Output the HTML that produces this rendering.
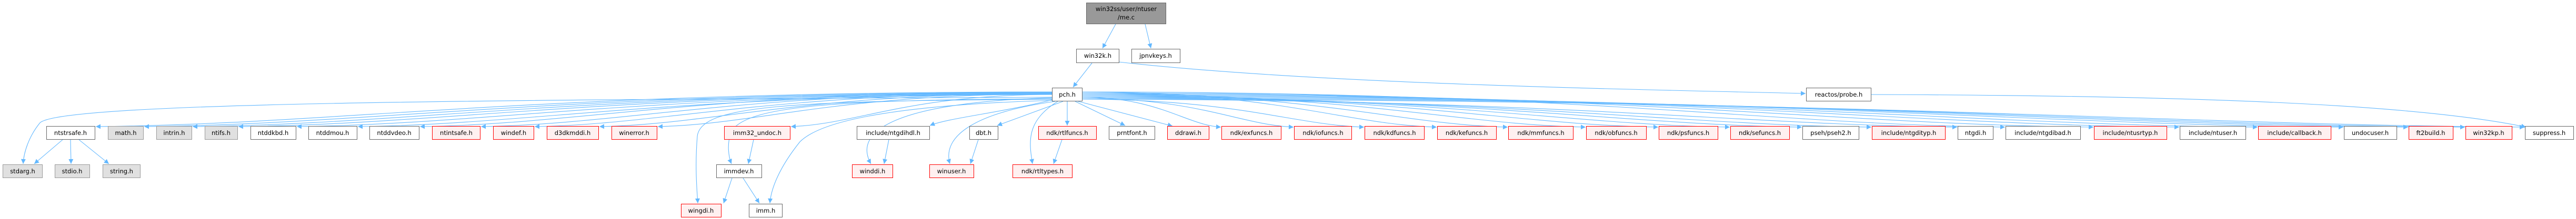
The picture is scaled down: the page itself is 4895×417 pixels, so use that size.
<!DOCTYPE html>
<html><head><meta charset="utf-8">
<style>
html,body{margin:0;padding:0;background:#fff;}
svg{display:block;}
text{font-family:"DejaVu Sans","Liberation Sans",sans-serif;font-size:11.5px;fill:#000;text-anchor:middle;}
.w{fill:#fff;stroke:#666;stroke-width:1;}
.g{fill:#e0e0e0;stroke:#999;stroke-width:1;}
.r{fill:#fff0f0;stroke:#f00;stroke-width:1;}
.e{fill:none;stroke:#63b8ff;stroke-width:1.1;}
</style></head>
<body>
<svg id="s" width="4895" height="417" viewBox="0 0 4895 417" xmlns="http://www.w3.org/2000/svg">
<defs><marker id="a" viewBox="0 0 10 10" refX="10" refY="5" markerWidth="11" markerHeight="9" markerUnits="userSpaceOnUse" orient="auto"><path d="M0,0 L10,5 L0,10 z" fill="#63b8ff"/></marker></defs>
<g id="edges"></g>
<g id="nodes">
<rect x="2064.5" y="5.5" width="151" height="40" fill="#999" stroke="#666"/>
<text x="2140" y="21">win32ss/user/ntuser</text><text x="2140" y="37">/me.c</text>

<rect class="w" x="2045.5" y="93.5" width="81" height="26"/><text x="2086" y="110">win32k.h</text>
<rect class="w" x="2150.5" y="93.5" width="92" height="26"/><text x="2196" y="110">jpnvkeys.h</text>

<rect class="w" x="1999.5" y="167.5" width="57" height="25"/><text x="2028" y="184">pch.h</text>
<rect class="w" x="3432.5" y="167.5" width="123" height="25"/><text x="3494" y="184">reactos/probe.h</text>

<rect class="w" x="88.5" y="240.5" width="92" height="25"/><text x="134" y="257">ntstrsafe.h</text>
<rect class="g" x="205.5" y="240.5" width="67" height="25"/><text x="239" y="257">math.h</text>
<rect class="g" x="297.5" y="240.5" width="67" height="25"/><text x="331" y="257">intrin.h</text>
<rect class="g" x="389.5" y="240.5" width="62" height="25"/><text x="420" y="257">ntifs.h</text>
<rect class="w" x="476.5" y="240.5" width="86" height="25"/><text x="519" y="257">ntddkbd.h</text>
<rect class="w" x="586.5" y="240.5" width="92" height="25"/><text x="632" y="257">ntddmou.h</text>
<rect class="w" x="702.5" y="240.5" width="94" height="25"/><text x="749" y="257">ntddvdeo.h</text>
<rect class="r" x="821.5" y="240.5" width="91" height="25"/><text x="867" y="257">ntintsafe.h</text>
<rect class="r" x="937.5" y="240.5" width="77" height="25"/><text x="976" y="257">windef.h</text>
<rect class="r" x="1039.5" y="240.5" width="98" height="25"/><text x="1088" y="257">d3dkmddi.h</text>
<rect class="r" x="1162.5" y="240.5" width="86" height="25"/><text x="1205" y="257">winerror.h</text>
<rect class="r" x="1376.5" y="240.5" width="125" height="25"/><text x="1439" y="257">imm32_undoc.h</text>
<rect class="w" x="1628.5" y="240.5" width="138" height="25"/><text x="1697" y="257">include/ntgdihdl.h</text>
<rect class="w" x="1842.5" y="240.5" width="54" height="25"/><text x="1869" y="257">dbt.h</text>
<rect class="r" x="1973.5" y="240.5" width="110" height="25"/><text x="2028" y="257">ndk/rtlfuncs.h</text>
<rect class="w" x="2107.5" y="240.5" width="87" height="25"/><text x="2151" y="257">prntfont.h</text>
<rect class="r" x="2218.5" y="240.5" width="79" height="25"/><text x="2258" y="257">ddrawi.h</text>
<rect class="r" x="2321.5" y="240.5" width="113" height="25"/><text x="2378" y="257">ndk/exfuncs.h</text>
<rect class="r" x="2459.5" y="240.5" width="109" height="25"/><text x="2514" y="257">ndk/iofuncs.h</text>
<rect class="r" x="2593.5" y="240.5" width="113" height="25"/><text x="2650" y="257">ndk/kdfuncs.h</text>
<rect class="r" x="2731.5" y="240.5" width="112" height="25"/><text x="2787" y="257">ndk/kefuncs.h</text>
<rect class="r" x="2866.5" y="240.5" width="123" height="25"/><text x="2928" y="257">ndk/mmfuncs.h</text>
<rect class="r" x="3014.5" y="240.5" width="114" height="25"/><text x="3071" y="257">ndk/obfuncs.h</text>
<rect class="r" x="3152.5" y="240.5" width="112" height="25"/><text x="3208" y="257">ndk/psfuncs.h</text>
<rect class="r" x="3288.5" y="240.5" width="112" height="25"/><text x="3344" y="257">ndk/sefuncs.h</text>
<rect class="w" x="3425.5" y="240.5" width="107" height="25"/><text x="3479" y="257">pseh/pseh2.h</text>
<rect class="r" x="3557.5" y="240.5" width="139" height="25"/><text x="3627" y="257">include/ntgdityp.h</text>
<rect class="w" x="3720.5" y="240.5" width="67" height="25"/><text x="3754" y="257">ntgdi.h</text>
<rect class="w" x="3811.5" y="240.5" width="142" height="25"/><text x="3882" y="257">include/ntgdibad.h</text>
<rect class="r" x="3979.5" y="240.5" width="138" height="25"/><text x="4048" y="257">include/ntusrtyp.h</text>
<rect class="w" x="4142.5" y="240.5" width="125" height="25"/><text x="4205" y="257">include/ntuser.h</text>
<rect class="r" x="4291.5" y="240.5" width="138" height="25"/><text x="4360" y="257">include/callback.h</text>
<rect class="w" x="4454.5" y="240.5" width="100" height="25"/><text x="4504" y="257">undocuser.h</text>
<rect class="r" x="4577.5" y="240.5" width="84" height="25"/><text x="4619" y="257">ft2build.h</text>
<rect class="r" x="4685.5" y="240.5" width="88" height="25"/><text x="4729" y="257">win32kp.h</text>
<rect class="w" x="4798.5" y="240.5" width="92" height="25"/><text x="4844" y="257">suppress.h</text>

<rect class="g" x="5.5" y="313.5" width="75" height="25"/><text x="43" y="330">stdarg.h</text>
<rect class="g" x="104.5" y="313.5" width="66" height="25"/><text x="137" y="330">stdio.h</text>
<rect class="g" x="195.5" y="313.5" width="71" height="25"/><text x="231" y="330">string.h</text>
<rect class="w" x="1361.5" y="313.5" width="86" height="25"/><text x="1404" y="330">immdev.h</text>
<rect class="r" x="1619.5" y="313.5" width="77" height="25"/><text x="1658" y="330">winddi.h</text>
<rect class="r" x="1766.5" y="313.5" width="84" height="25"/><text x="1808" y="330">winuser.h</text>
<rect class="r" x="1924.5" y="313.5" width="113" height="25"/><text x="1981" y="330">ndk/rtltypes.h</text>

<rect class="r" x="1294.5" y="388.5" width="76" height="25"/><text x="1332" y="405">wingdi.h</text>
<rect class="w" x="1423.5" y="388.5" width="63" height="25"/><text x="1455" y="405">imm.h</text>
</g>
</svg>
<script>
(function(){
var g=document.getElementById('edges'),ns='http://www.w3.org/2000/svg';
function p(d){var e=document.createElementNS(ns,'path');e.setAttribute('d',d);e.setAttribute('class','e');e.setAttribute('marker-end','url(#a)');g.appendChild(e);}
function line(x1,y1,x2,y2){p('M'+x1+','+y1+' L'+x2+','+y2);}
// root
line(2120,46,2095,92);line(2176,46,2187,92);
// win32k
line(2075,120,2039,166);
p('M2126,118 C2500,160 3100,170 3431,178');
p('M3556,180 C4200,182 4600,200 4800,242');
// pch -> row4 (x-left,x-right)
var r=[[88,181],[205,273],[297,365],[389,452],[476,563],[586,679],[702,797],[821,913],[937,1015],[1039,1138],[1162,1249],[1376,1502],[2218,2298],[2321,2435],[2459,2569],[2593,2707],[2731,2844],[2866,2990],[3014,3129],[3152,3265],[3288,3401],[3425,3533],[3557,3697],[3720,3788],[3811,3954],[3979,4118],[4142,4268],[4291,4430],[4454,4555],[4577,4662],[4685,4774],[4798,4891]];
r.forEach(function(n,i){
 var cx=(n[0]+n[1])/2;
 if(n[1]<2000){ // left
  var x2=n[1]+1,y2=241, x1=1999,y1=175+(i%6);
  p('M'+x1+','+y1+' C'+(x1-(x1-x2)*0.55)+','+y1+' '+(x2+(x1-x2)*0.25)+','+(y2-4)+' '+x2+','+y2);
 } else if(n[0]<2300){
  line(2045,192,n[0]+10,240);
 } else {
  var x2=n[0]-1,y2=242, x1=2057,y1=175+(i%8)*2;
  p('M'+x1+','+y1+' C'+(x1+(x2-x1)*0.55)+','+y1+' '+(x2-(x2-x1)*0.25)+','+(y2-4)+' '+x2+','+y2);
 }
});
line(2028,193,2028,239);
line(2043,193,2138,239);
line(2020,193,1895,239);
p('M2000,190 C1900,215 1800,225 1767,239');
// pch to lower
p('M1999,185 C900,190 100,195 75,235 C55,260 45,290 44,312');
p('M2000,186 C1700,195 1620,250 1655,312');
p('M2005,193 C1850,215 1790,260 1805,312');
p('M2010,193 C1950,230 1955,270 1962,312');
p('M2000,188 C1600,190 1420,200 1390,250 C1380,275 1385,300 1390,312');
p('M2000,189 C1500,192 1330,200 1325,260 C1320,320 1325,370 1326,387');
p('M2002,191 C1700,200 1560,230 1520,270 C1480,320 1465,360 1463,387');
// others
line(119,266,65,312);line(134,266,135,312);line(150,266,207,312);
line(1432,266,1422,312);
line(1391,339,1375,387);line(1412,339,1443,387);
line(1689,266,1680,312);
line(1859,266,1844,312);
line(2018,266,2002,312);
})();
</script>
</body></html>
